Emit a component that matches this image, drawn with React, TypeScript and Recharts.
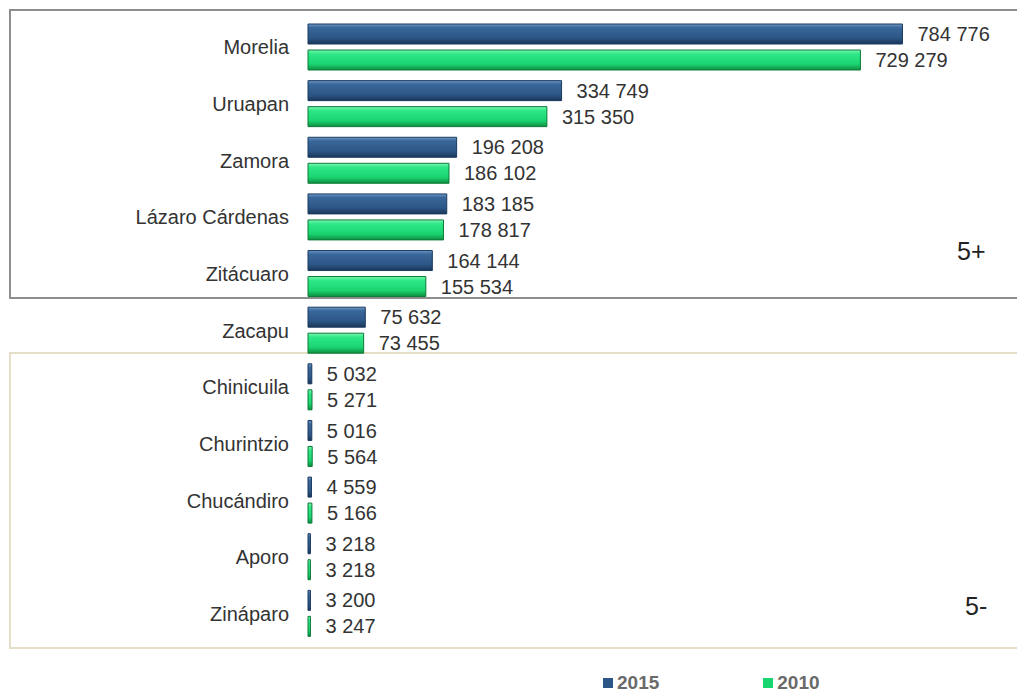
import React from 'react';
import { BarChart, Bar, XAxis, YAxis, LabelList } from 'recharts';

const municipios = [
  'Morelia',
  'Uruapan',
  'Zamora',
  'Lázaro Cárdenas',
  'Zitácuaro',
  'Zacapu',
  'Chinicuila',
  'Churintzio',
  'Chucándiro',
  'Aporo',
  'Zináparo',
];
const pob2015 = [784776, 334749, 196208, 183185, 164144, 75632, 5032, 5016, 4559, 3218, 3200];
const pob2010 = [729279, 315350, 186102, 178817, 155534, 73455, 5271, 5564, 5166, 3218, 3247];
const years = ['2015', '2010'];
const groupTags = ['5+', '5-'];

const data = municipios.map((name, i) => ({
  name,
  y2015: pob2015[i],
  y2010: pob2010[i],
}));

const fmt = (v: any) => String(v).replace(/\B(?=(\d{3})+(?!\d))/g, ' ');

const FONT = '"Liberation Sans", Arial, sans-serif';

const App: React.FC = () => {
  return (
    <div
      style={{
        position: 'absolute',
        left: 0,
        top: 0,
        width: 1017,
        height: 692,
        background: '#fff',
        overflow: 'hidden',
        fontFamily: FONT,
      }}
    >
      {/* group boxes */}
      <div
        style={{
          position: 'absolute',
          left: 9,
          top: 9,
          width: 1030,
          height: 290,
          border: '2px solid #8e8e8e',
          boxSizing: 'border-box',
        }}
      />
      <div
        style={{
          position: 'absolute',
          left: 9,
          top: 352,
          width: 1030,
          height: 297,
          border: '2px solid #e4dfc6',
          boxSizing: 'border-box',
        }}
      />
      <div style={{ position: 'absolute', left: 957, top: 237, fontSize: 25, color: '#222' }}>{groupTags[0]}</div>
      <div style={{ position: 'absolute', left: 965, top: 592, fontSize: 25, color: '#222' }}>{groupTags[1]}</div>

      <div style={{ position: 'absolute', left: 0, top: 0 }}>
        <BarChart
          width={1017}
          height={692}
          data={data}
          layout="vertical"
          margin={{ top: 19, right: 103, bottom: 50, left: 0 }}
          barSize={20}
          barGap={6}
          barCategoryGap={5}
        >
          <defs>
            <linearGradient id="gBlue" x1="0" y1="0" x2="0" y2="1">
              <stop offset="0%" stopColor="#6f98c6" />
              <stop offset="18%" stopColor="#3a679a" />
              <stop offset="70%" stopColor="#2c5686" />
              <stop offset="100%" stopColor="#1a3658" />
            </linearGradient>
            <linearGradient id="gGreen" x1="0" y1="0" x2="0" y2="1">
              <stop offset="0%" stopColor="#7cf7b2" />
              <stop offset="20%" stopColor="#2ee787" />
              <stop offset="70%" stopColor="#1ad470" />
              <stop offset="100%" stopColor="#0e8f42" />
            </linearGradient>
          </defs>
          <XAxis type="number" domain={[0, 800000]} hide />
          <YAxis
            type="category"
            dataKey="name"
            width={308}
            axisLine={false}
            tickLine={false}
            tickMargin={13}
            interval={0}
            tick={{ fontSize: 20, fill: '#333', fontFamily: FONT }}
          />
          <Bar
            dataKey="y2015"
            name={years[0]}
            fill="url(#gBlue)"
            stroke="#1b3a60"
            strokeWidth={1}
            isAnimationActive={false}
          >
            <LabelList
              dataKey="y2015"
              position="right"
              offset={15}
              formatter={fmt}
              style={{ fontSize: 20, fill: '#333', fontFamily: FONT }}
            />
          </Bar>
          <Bar
            dataKey="y2010"
            name={years[1]}
            fill="url(#gGreen)"
            stroke="#0c7a38"
            strokeWidth={1}
            isAnimationActive={false}
          >
            <LabelList
              dataKey="y2010"
              position="right"
              offset={15}
              formatter={fmt}
              style={{ fontSize: 20, fill: '#333', fontFamily: FONT }}
            />
          </Bar>
        </BarChart>
      </div>

      {/* legend */}
      <div
        style={{
          position: 'absolute',
          top: 672,
          left: 603,
          display: 'flex',
          alignItems: 'center',
          fontSize: 19,
          fontWeight: 'bold',
          color: '#6a6a6a',
        }}
      >
        <span style={{ width: 10, height: 10, background: '#2c5686', display: 'inline-block', marginRight: 4 }} />
        <span>{years[0]}</span>
        <span style={{ width: 10, height: 10, background: '#1ad470', display: 'inline-block', marginLeft: 104, marginRight: 4 }} />
        <span>{years[1]}</span>
      </div>
    </div>
  );
};

export default App;
